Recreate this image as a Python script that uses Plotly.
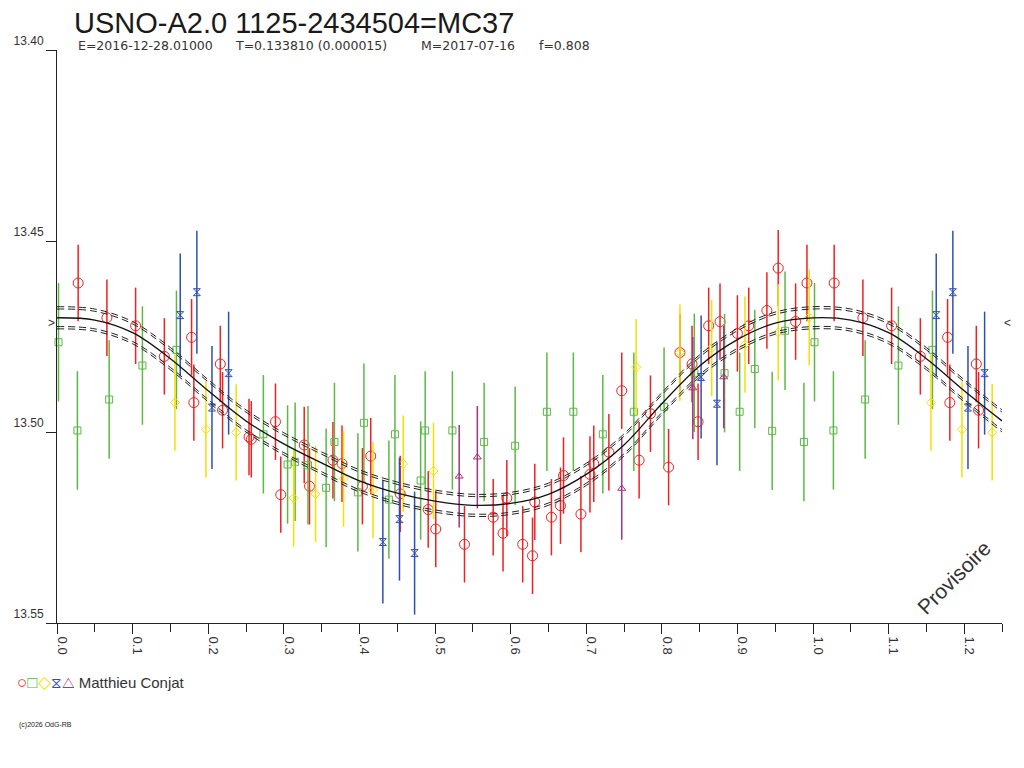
import plotly.graph_objects as go

# ── Observations (phase, magnitude), one set per symbol ─────────────────────
RED_PHASE = [0.028, 0.066, 0.104, 0.142, 0.178, 0.181, 0.216, 0.219, 0.254, 0.257,
             0.289, 0.296, 0.327, 0.334, 0.365, 0.377, 0.404, 0.415, 0.454, 0.491,
             0.501, 0.539, 0.577, 0.590, 0.595, 0.616, 0.629, 0.632, 0.654, 0.666,
             0.670, 0.693, 0.705, 0.710, 0.730, 0.747, 0.770, 0.785, 0.809, 0.824,
             0.840, 0.848, 0.862, 0.877, 0.900, 0.915, 0.939, 0.954, 0.977, 0.992]
RED_MAG = [13.4610, 13.4701, 13.4722, 13.4802, 13.4752, 13.4923, 13.4822, 13.4943, 13.5013, 13.5019,
           13.4973, 13.5164, 13.5034, 13.5142, 13.5074, 13.5083, 13.5142, 13.5063, 13.5162, 13.5203,
           13.5254, 13.5294, 13.5223, 13.5265, 13.5173, 13.5294, 13.5324, 13.5183, 13.5223, 13.5193,
           13.5114, 13.5215, 13.5111, 13.5083, 13.5053, 13.4892, 13.5074, 13.4952, 13.5092, 13.4792,
           13.4822, 13.4973, 13.4722, 13.4711, 13.4742, 13.4722, 13.4682, 13.4571, 13.4711, 13.4610]

GREEN_PHASE = [0.002, 0.027, 0.069, 0.113, 0.158, 0.273, 0.305, 0.315, 0.332, 0.356,
               0.367, 0.398, 0.406, 0.439, 0.447, 0.481, 0.487, 0.523, 0.565, 0.606,
               0.648, 0.683, 0.722, 0.763, 0.803, 0.843, 0.883, 0.903, 0.923, 0.946,
               0.963, 0.988]
GREEN_MAG = [13.4765, 13.4996, 13.4915, 13.4826, 13.4785, 13.5006, 13.5085, 13.5078, 13.5087, 13.5146,
             13.5026, 13.5158, 13.4976, 13.5177, 13.5006, 13.5127, 13.4996, 13.4996, 13.5026, 13.5036,
             13.4947, 13.4947, 13.5006, 13.4947, 13.4934, 13.4845, 13.4846, 13.4947, 13.4835, 13.4997,
             13.4735, 13.5026]

YELLOW_PHASE = [0.156, 0.197, 0.237, 0.313, 0.342, 0.379, 0.418, 0.458, 0.498, 0.766,
                0.824, 0.866, 0.910, 0.954, 0.995]
YELLOW_MAG = [13.4923, 13.4993, 13.5001, 13.5173, 13.5162, 13.5122, 13.5152, 13.5083, 13.5102, 13.4830,
              13.4792, 13.4780, 13.4771, 13.4739, 13.4700]

BLUE_PHASE = [0.163, 0.185, 0.205, 0.227, 0.431, 0.453, 0.473, 0.852, 0.873]
BLUE_MAG = [13.4694, 13.4634, 13.4936, 13.4846, 13.5288, 13.5228, 13.5317, 13.4856, 13.4926]

PURPLE_PHASE = [0.532, 0.556, 0.747, 0.841, 0.882]
PURPLE_MAG = [13.5116, 13.5066, 13.5148, 13.4885, 13.4856]

# error bar half-lengths (mag)
ERR_RED = 0.0100
ERR_GREEN = 0.0155
ERR_YELLOW = 0.0126
ERR_BLUE = 0.0161
ERR_PURPLE = 0.0134

# ── Fitted light curve and its band ─────────────────────────────────────────
FIT_PHASE = [0.00, 0.05, 0.10, 0.15, 0.20, 0.25, 0.30, 0.35, 0.40, 0.45, 0.50,
             0.55, 0.60, 0.65, 0.70, 0.75, 0.80, 0.85, 0.90, 0.95, 1.00]
FIT_MAG = [13.4701, 13.4707, 13.4740, 13.4808, 13.4892, 13.4971, 13.5031, 13.5081, 13.5128, 13.5160, 13.5181,
           13.5192, 13.5187, 13.5163, 13.5111, 13.5034, 13.4926, 13.4827, 13.4758, 13.4715, 13.4701]
BAND_INNER = 0.0023
BAND_OUTER = 0.0029

Y_TICKS = [13.40, 13.45, 13.50, 13.55]
X_MAX = 1.25
MEAN_MARK = 13.4715

TITLE = "USNO-A2.0 1125-2434504=MC37"
# header fields: text and left position (fraction of plot width)
HEADER = [
    ("E=2016-12-28.01000", 0.0201),
    ("T=0.133810 (0.000015)", 0.1862),
    ("M=2017-07-16", 0.3831),
    ("f=0.808", 0.5079),
]
OBSERVER = "Matthieu Conjat"
FONT = "Liberation Sans, Arial, sans-serif"
WIDE_FONT = "DejaVu Sans, Verdana, sans-serif"


def fold(phase, mag):
    """Repeat the start of the cycle after phase 1, up to the axis end."""
    xs = list(phase) + [p + 1 for p in phase if p + 1 <= X_MAX]
    ys = list(mag) + [m for p, m in zip(phase, mag) if p + 1 <= X_MAX]
    return xs, ys


fig = go.Figure()

series = [
    (RED_PHASE, RED_MAG, ERR_RED, "#ee2222", "circle-open", 10),
    (GREEN_PHASE, GREEN_MAG, ERR_GREEN, "#5cb845", "square-open", 7),
    (YELLOW_PHASE, YELLOW_MAG, ERR_YELLOW, "#f5e000", "diamond-open", 7),
    (BLUE_PHASE, BLUE_MAG, ERR_BLUE, "#2f4fb0", "hourglass-open", 7),
    (PURPLE_PHASE, PURPLE_MAG, ERR_PURPLE, "#a8307c", "triangle-up-open", 7),
]
for ph, mg, err, color, symbol, size in series:
    xs, ys = fold(ph, mg)
    fig.add_trace(go.Scatter(
        x=xs, y=ys, mode="markers", showlegend=False, cliponaxis=False,
        marker=dict(symbol=symbol, size=size, color=color, line=dict(width=1, color=color)),
        error_y=dict(type="constant", value=err, width=0, thickness=1.5, color=color),
    ))

# fit curve + double dashed band on each side
fit_x = FIT_PHASE + [p + 1 for p in FIT_PHASE[1:] if p + 1 <= X_MAX]
fit_y = FIT_MAG + [m for p, m in zip(FIT_PHASE[1:], FIT_MAG[1:]) if p + 1 <= X_MAX]
for off in (-BAND_OUTER, -BAND_INNER, BAND_INNER, BAND_OUTER):
    fig.add_trace(go.Scatter(
        x=fit_x, y=[m + off for m in fit_y], mode="lines", showlegend=False,
        line=dict(color="#222222", width=1, dash="7px,4px", shape="spline"),
    ))
fig.add_trace(go.Scatter(
    x=fit_x, y=fit_y, mode="lines", showlegend=False,
    line=dict(color="#111111", width=1.3, shape="spline"),
))

# ── Annotations ─────────────────────────────────────────────────────────────
legend_syms = (
    "<span style='color:#ee2222;font-size:17px'>○</span>"
    "<span style='color:#5cb845;font-size:17px'>□</span>"
    "<span style='color:#f5e000;font-size:17px'>◇</span>"
    "<span style='color:#2f4fb0;font-size:15px'>⧖</span>"
    "<span style='color:#a8307c;font-size:15px'>△</span>"
)
small = dict(size=12, color="#333333", family=FONT)
annotations = [
    dict(text=txt, x=xpos, y=1.008, xref="paper", yref="paper",
         xanchor="left", yanchor="middle", showarrow=False,
         font=dict(size=12.5, color="#333333", family=WIDE_FONT))
    for txt, xpos in HEADER
]
annotations += [
    dict(text=">", x=-0.0056, y=MEAN_MARK, xref="paper", yref="y",
         xanchor="center", yanchor="middle", showarrow=False, font=small),
    dict(text="<", x=1.0053, y=MEAN_MARK, xref="paper", yref="y",
         xanchor="center", yanchor="middle", showarrow=False, font=small),
    dict(text="Provisoire", x=0.949, y=0.080, xref="paper", yref="paper",
         xanchor="center", yanchor="middle", textangle=-45, showarrow=False,
         font=dict(size=21, color="#333333", family=FONT)),
    dict(text=legend_syms + " " + OBSERVER, x=-0.0445, y=-0.103, xref="paper", yref="paper",
         xanchor="left", yanchor="middle", showarrow=False,
         font=dict(size=15, color="#333333", family=FONT)),
    dict(text="(c)2026 OdG-RB", x=-0.0423, y=-0.178, xref="paper", yref="paper",
         xanchor="left", yanchor="middle", showarrow=False,
         font=dict(size=7, color="#222222", family=FONT)),
]

# page body adds an 8px offset, so the figure is 8px smaller and margins shifted
fig.update_layout(
    width=1016, height=760,
    paper_bgcolor="white", plot_bgcolor="white",
    margin=dict(l=49, r=22, t=42, b=145, autoexpand=False),
    title=dict(text=TITLE, x=66 / 1016, xanchor="left", xref="container",
               y=1 - 5 / 760, yanchor="top", pad=dict(t=0, b=0, l=0, r=0),
               font=dict(size=29, color="#1a1a1a", family=FONT)),
    annotations=annotations,
    showlegend=False,
)

fig.update_xaxes(
    range=[0, X_MAX], dtick=0.1, tick0=0, tickformat=".1f", automargin=False,
    showgrid=False, zeroline=False, showline=True, linecolor="#222222", linewidth=1,
    ticks="outside", ticklen=10, tickcolor="#222222", tickwidth=1,
    tickangle=90, ticklabelshift=5, ticklabelstandoff=0,
    tickfont=dict(size=13, color="#333333", family=FONT),
    minor=dict(dtick=0.05, ticks="outside", ticklen=8, tickcolor="#222222", tickwidth=1, showgrid=False),
)
fig.update_yaxes(
    range=[13.55, 13.40], tickvals=Y_TICKS, tickformat=".2f", automargin=False,
    showgrid=False, zeroline=False, showline=True, linecolor="#222222", linewidth=1,
    ticks="outside", ticklen=10, tickcolor="#222222", tickwidth=1,
    ticklabelposition="outside top", ticklabelstandoff=10,
    tickfont=dict(size=12, color="#333333", family=FONT),
)

fig.write_html("out.html")
